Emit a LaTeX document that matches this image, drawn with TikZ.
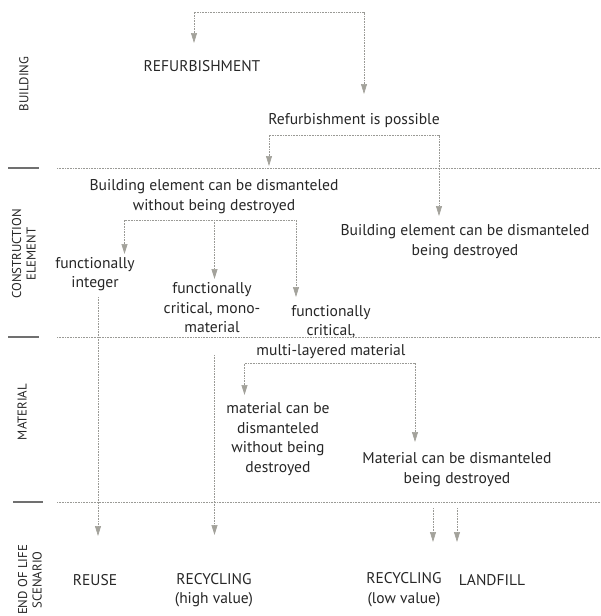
\documentclass[tikz,border=0pt]{standalone}
\usepackage{fontspec}
\setmainfont{PT Sans}
\usetikzlibrary{arrows.meta}
\definecolor{txt}{HTML}{262626}
\definecolor{dots}{HTML}{9A9A96}
\definecolor{tipc}{HTML}{A3A29B}
\definecolor{rule}{HTML}{707070}
\begin{document}
\begin{tikzpicture}[x=1pt,y=-1pt,
  lbl/.style={text=txt,font=\fontsize{15.6}{19.5}\selectfont,align=center,inner sep=0pt},
  caps/.style={lbl,font=\fontsize{15.5}{19.5}\selectfont},
  side/.style={text=txt,font=\fontsize{12.8}{14.5}\selectfont,align=center,inner sep=0pt,rotate=90},
  conn/.style={draw=dots,line width=0.7pt,dash pattern=on 0.8pt off 0.8pt,
    arrows={-Triangle[width=6pt,length=10pt,fill=tipc,color=tipc]}},
  twin/.style={conn,arrows={Triangle[width=6pt,length=10pt,fill=tipc,color=tipc]-Triangle[width=6pt,length=10pt,fill=tipc,color=tipc]}},
  divider/.style={draw=dots,line width=0.7pt,dash pattern=on 0.8pt off 0.8pt},
  tick/.style={draw=rule,line width=1.2pt}]
\useasboundingbox (0,0) rectangle (601,616);

% level labels
\node[side] (lvb) at (24,84) {BUILDING};
\node[side] (lvc) at (24,254) {CONSTRUCTION\\ELEMENT};
\node[side] (lvm) at (22,412) {MATERIAL};
\node[side] (lve) at (30,580) {END OF LIFE\\SCENARIO};

% level dividers
\coordinate (d1a) at (57,168); \coordinate (d1b) at (601,168);
\coordinate (d2a) at (57,337); \coordinate (d2b) at (601,337);
\coordinate (d3a) at (57,502); \coordinate (d3b) at (601,502);
\coordinate (k1a) at (8,168);  \coordinate (k1b) at (39,168);
\coordinate (k2a) at (8,337);  \coordinate (k2b) at (39,337);
\coordinate (k3a) at (13,502); \coordinate (k3b) at (43,502);
\draw[divider] (d1a) -- (d1b);
\draw[divider] (d2a) -- (d2b);
\draw[divider] (d3a) -- (d3b);
\draw[tick] (k1a) -- (k1b);
\draw[tick] (k2a) -- (k2b);
\draw[tick] (k3a) -- (k3b);

% texts
\node[caps] (refurb) at (202,66) {REFURBISHMENT};
\node[lbl] (possible) at (354,121) {Refurbishment is possible};
\node[lbl] (bewo) at (214,196.5) {Building element can be dismanteled\\without being destroyed};
\node[lbl] (bed) at (465,241.5) {Building element can be dismanteled\\being destroyed};
\node[lbl] (fint) at (95,274) {functionally\\integer};
\node[lbl] (fmono) at (212,308) {functionally\\critical, mono-\\material};
\node[lbl] (fmulti) at (331,332) {functionally\\critical,\\multi-layered material};
\node[lbl] (mwo) at (278,439) {material can be\\dismanteled\\without being\\destroyed};
\node[lbl] (md) at (457,469.5) {Material can be dismanteled\\being destroyed};
\node[caps] (reuse) at (95,580) {REUSE};
\node[caps] (rhigh) at (214,590) {RECYCLING\\(high value)};
\node[caps] (rlow) at (404,589.5) {RECYCLING\\(low value)};
\node[caps] (landfill) at (492,580) {LANDFILL};

% arrow end points and branch corners
\coordinate (a1) at (194,43);  \coordinate (a1c) at (364,12); \coordinate (a2) at (364,94);
\coordinate (b1) at (269,166); \coordinate (b1c) at (439,135); \coordinate (b2) at (439,216);
\coordinate (c1) at (124.5,254); \coordinate (c1c) at (296,220); \coordinate (c3) at (296,297);
\coordinate (c2s) at (214.5,220); \coordinate (c2) at (214.5,279);
\coordinate (e1) at (244.5,395); \coordinate (e1c) at (415,363); \coordinate (e2) at (415,442);
\coordinate (r1s) at (98,297);  \coordinate (r1) at (98,536);
\coordinate (r2s) at (214.5,355); \coordinate (r2) at (214.5,535);
\coordinate (l1s) at (433,508); \coordinate (l1) at (433,542);
\coordinate (l2s) at (457,508); \coordinate (l2) at (457,542);

% connectors
\draw[twin] (a1) |- (a1c) -- (a2);
\draw[twin] (b1) |- (b1c) -- (b2);
\draw[twin] (c1) |- (c1c) -- (c3);
\draw[conn] (c2s) -- (c2);
\draw[twin] (e1) |- (e1c) -- (e2);
\draw[conn] (r1s) -- (r1);
\draw[conn] (r2s) -- (r2);
\draw[conn] (l1s) -- (l1);
\draw[conn] (l2s) -- (l2);
\end{tikzpicture}
\end{document}
